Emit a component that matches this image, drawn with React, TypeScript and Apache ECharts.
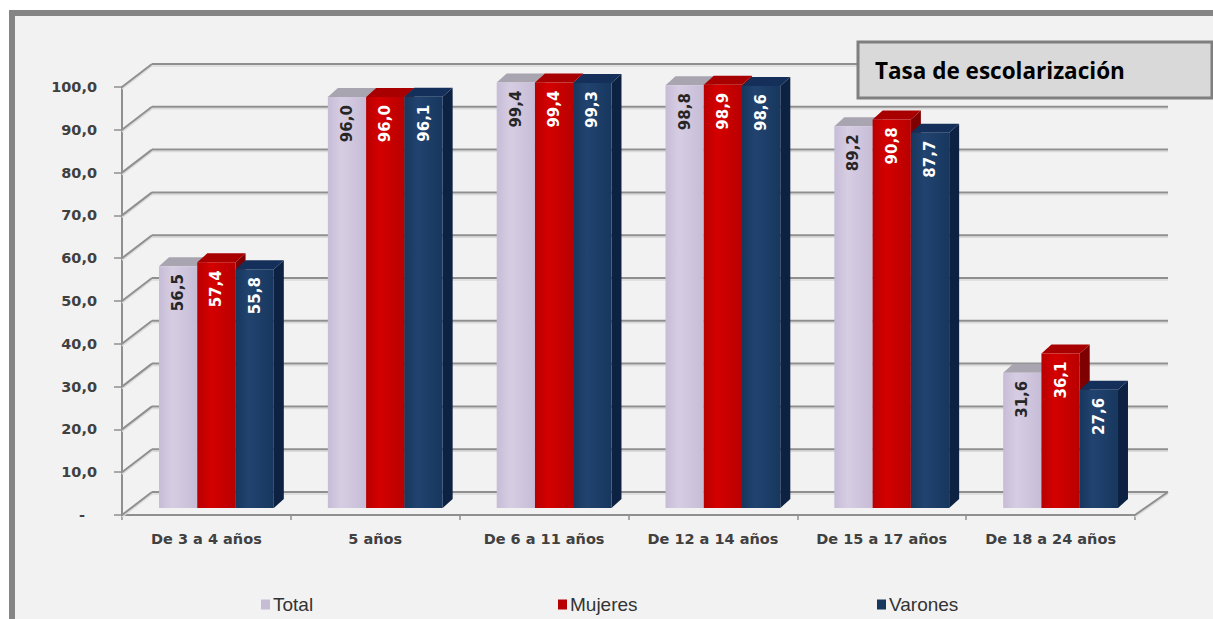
import React, { useEffect, useRef } from "react";
import * as echarts from "echarts";

const categories = [
  "De 3 a 4 años",
  "5 años",
  "De 6 a 11 años",
  "De 12 a 14 años",
  "De 15 a 17 años",
  "De 18 a 24 años",
];
const seriesNames = ["Total", "Mujeres", "Varones"];
const totalValues = [56.5, 96.0, 99.4, 98.8, 89.2, 31.6];
const mujeresValues = [57.4, 96.0, 99.4, 98.9, 90.8, 36.1];
const varonesValues = [55.8, 96.1, 99.3, 98.6, 87.7, 27.6];
const yTicks = [0, 10, 20, 30, 40, 50, 60, 70, 80, 90, 100];
const titleText = "Tasa de escolarización";

const fmt = (v: number) => v.toFixed(1).replace(".", ",");

type Pal = { front: string[]; top: string; side: string; label: string };
const palettes: Pal[] = [
  { front: ["#d6cde3", "#c7bcd6"], top: "#a8a4b0", side: "#a79dba", label: "#262626" },
  { front: ["#d40000", "#b80000"], top: "#a80000", side: "#7e0000", label: "#ffffff" },
  { front: ["#21436f", "#17375e"], top: "#14305a", side: "#0d2242", label: "#ffffff" },
];

const DEPTH_X = 30;
const DEPTH_Y = -23;

function barRenderer(sIdx: number) {
  const pal = palettes[sIdx];
  return (params: any, api: any) => {
    const ci = api.value(0);
    const v = api.value(1);
    const top = api.coord([ci, v]);
    const base = api.coord([ci, 0]);
    const band = api.size([1, 0])[0];
    const groupW = band * 0.68;
    const w = groupW / 3;
    const shiftX = 10;
    const shiftY = -7;
    const x0 = top[0] - groupW / 2 + sIdx * w + shiftX;
    const yTop = top[1] + shiftY;
    const yBot = base[1] + shiftY;
    const dx = 10;
    const dy = -9;
    return {
      type: "group",
      children: [
        {
          type: "polygon",
          shape: {
            points: [
              [x0 + w, yTop],
              [x0 + w + dx, yTop + dy],
              [x0 + w + dx, yBot + dy],
              [x0 + w, yBot],
            ],
          },
          style: { fill: pal.side },
        },
        {
          type: "polygon",
          shape: {
            points: [
              [x0, yTop],
              [x0 + w, yTop],
              [x0 + w + dx, yTop + dy],
              [x0 + dx, yTop + dy],
            ],
          },
          style: { fill: pal.top },
        },
        {
          type: "rect",
          shape: { x: x0, y: yTop, width: w, height: yBot - yTop },
          style: {
            fill: new echarts.graphic.LinearGradient(0, 0, 1, 0, [
              { offset: 0, color: pal.front[1] },
              { offset: 0.35, color: pal.front[0] },
              { offset: 1, color: pal.front[1] },
            ]),
          },
        },
        {
          type: "text",
          x: x0 + w / 2,
          y: yTop + 8,
          rotation: Math.PI / 2,
          style: {
            text: fmt(v),
            fill: pal.label,
            font: 'bold 15px "DejaVu Sans"',
            align: "right",
            verticalAlign: "middle",
            textAlign: "right",
            textVerticalAlign: "middle",
          },
        },
      ],
    };
  };
}

function wallRenderer(params: any, api: any) {
  const v = api.value(1);
  const p = api.coord([0, v]);
  const band = api.size([1, 0])[0];
  const left = p[0] - band / 2;
  const right = left + band * categories.length;
  const main = { stroke: "#8f8f8f", lineWidth: 2 };
  const shade = { stroke: "#dadada", lineWidth: 1.5 };
  const segs: number[][] = [
    [left, p[1], left + DEPTH_X, p[1] + DEPTH_Y],
    [left + DEPTH_X, p[1] + DEPTH_Y, right + DEPTH_X + 3, p[1] + DEPTH_Y],
  ];
  if (v === 0) segs.push([right, p[1], right + DEPTH_X + 3, p[1] + DEPTH_Y]);
  const children: any[] = [];
  segs.forEach((s) => {
    children.push({
      type: "line",
      shape: { x1: s[0], y1: s[1] + 2, x2: s[2], y2: s[3] + 2 },
      style: shade,
    });
  });
  segs.forEach((s) => {
    children.push({
      type: "line",
      shape: { x1: s[0], y1: s[1], x2: s[2], y2: s[3] },
      style: main,
    });
  });
  return { type: "group", children };
}

const legendLefts = [256, 553, 872];

export default function App() {
  const ref = useRef<HTMLDivElement>(null);
  useEffect(() => {
    if (!ref.current) return;
    const chart = echarts.init(ref.current, null, { renderer: "svg" });
    const valueSets = [totalValues, mujeresValues, varonesValues];
    const option: any = {
      animation: false,
      backgroundColor: "#ffffff",
      grid: { left: 122, right: 78, top: 87, bottom: 104, containLabel: false },
      xAxis: {
        type: "category",
        data: categories,
        axisLine: { show: true, lineStyle: { color: "#8f8f8f", width: 2 } },
        axisTick: { show: true, length: 5, lineStyle: { color: "#8f8f8f", width: 1.5 } },
        axisLabel: {
          interval: 0,
          margin: 16,
          color: "#404040",
          fontFamily: "DejaVu Sans",
          fontWeight: "bold",
          fontSize: 14.5,
        },
        splitLine: { show: false },
      },
      yAxis: {
        type: "value",
        min: 0,
        max: 100,
        interval: 10,
        axisLine: { show: true, lineStyle: { color: "#8f8f8f", width: 2 } },
        axisTick: { show: true, length: 8, lineStyle: { color: "#8f8f8f", width: 1.5 } },
        axisLabel: {
          margin: 25,
          color: "#404040",
          fontFamily: "DejaVu Sans",
          fontWeight: "bold",
          fontSize: 14.5,
          formatter: (val: number) => (val === 0 ? "{d|-}" : fmt(val)),
          rich: {
            d: {
              color: "#404040",
              fontFamily: "DejaVu Sans",
              fontWeight: "bold",
              fontSize: 14.5,
              padding: [0, 12, 0, 0],
            },
          },
        },
        splitLine: { show: false },
      },
      legend: seriesNames.map((n, i) => ({
        data: [n],
        left: legendLefts[i],
        top: 590,
        icon: "rect",
        itemWidth: 9,
        itemHeight: 10,
        itemGap: 0,
        selectedMode: false,
        textStyle: {
          color: "#333333",
          fontFamily: "Liberation Sans",
          fontSize: 19,
          padding: [0, 0, 0, -2],
        },
      })),
      graphic: [
        {
          type: "rect",
          z: -100,
          silent: true,
          shape: { x: 12, y: 13, width: 1204, height: 615 },
          style: { fill: "#f2f2f2", stroke: "#858585", lineWidth: 6 },
        },
        {
          type: "rect",
          z: 100,
          shape: { x: 858, y: 42, width: 354, height: 56 },
          style: { fill: "#d9d9d9", stroke: "#7f7f7f", lineWidth: 3 },
        },
        {
          type: "text",
          z: 101,
          x: 875,
          y: 70,
          style: {
            text: titleText,
            fill: "#000000",
            font: 'bold 22.5px "Open Sans"',
            align: "left",
            verticalAlign: "middle",
            textAlign: "left",
            textVerticalAlign: "middle",
          },
        },
      ],
      series: [
        {
          type: "custom",
          name: "wall",
          z: 1,
          silent: true,
          renderItem: wallRenderer,
          data: yTicks.map((t) => [0, t]),
          encode: { x: 0, y: 1 },
        },
        ...seriesNames.map((n, i) => ({
          type: "custom",
          name: n,
          z: 3,
          itemStyle: { color: palettes[i].front[1] },
          renderItem: barRenderer(i),
          data: valueSets[i].map((v, ci) => [ci, v]),
          encode: { x: 0, y: 1 },
        })),
      ],
    };
    chart.setOption(option);
    return () => chart.dispose();
  }, []);
  return (
    <div
      ref={ref}
      style={{ position: "absolute", left: 0, top: 0, width: 1213, height: 619 }}
    />
  );
}
